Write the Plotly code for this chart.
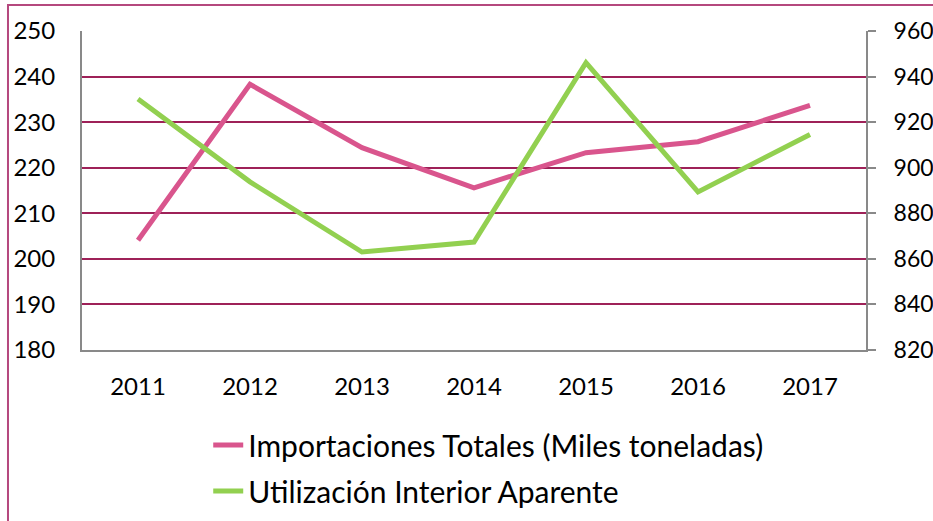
import plotly.graph_objects as go

years = ["2011", "2012", "2013", "2014", "2015", "2016", "2017"]
importaciones = [204.1, 238.3, 224.4, 215.6, 223.3, 225.7, 233.7]
utilizacion = [930.2, 893.8, 863.0, 867.4, 946.1, 889.4, 914.6]
left_ticks = [180, 190, 200, 210, 220, 230, 240, 250]
right_ticks = [820, 840, 860, 880, 900, 920, 940, 960]

FONT = "Lato"
fig = go.Figure()
fig.add_trace(go.Scatter(x=years, y=importaciones, mode="lines",
                         name="Importaciones Totales (Miles toneladas)",
                         legend="legend",
                         line=dict(color="#D9558D", width=5)))
fig.add_trace(go.Scatter(x=years, y=utilizacion, mode="lines", yaxis="y2",
                         name="Utilización Interior Aparente",
                         legend="legend2",
                         line=dict(color="#92D050", width=5)))

leg_common = dict(xanchor="left", yanchor="middle",
                  font=dict(size=30, family=FONT, color="#000000"),
                  bgcolor="rgba(0,0,0,0)")

fig.update_layout(
    width=933, height=521,
    margin=dict(l=82, r=67, t=31, b=171, autoexpand=False),
    paper_bgcolor="white", plot_bgcolor="white",
    font=dict(family=FONT, size=24, color="#000000"),
    showlegend=True,
    legend=dict(x=0.161, y=-0.298, **leg_common),
    legend2=dict(x=0.161, y=-0.442, **leg_common),
    xaxis=dict(type="category", range=[-0.5, 6.5], showgrid=False,
               showline=True, linecolor="#898989", linewidth=2,
               ticks="", ticklabelstandoff=14, zeroline=False,
               automargin=False),
    yaxis=dict(range=[180, 250], tickvals=left_ticks, showgrid=True,
               gridcolor="#9E2158", gridwidth=2, showline=True,
               linecolor="#898989", linewidth=2, ticks="",
               ticklabelstandoff=20, zeroline=False, automargin=False),
    yaxis2=dict(range=[820, 960], tickvals=right_ticks, overlaying="y",
                side="right", showgrid=False, showline=True,
                linecolor="#898989", linewidth=2, ticks="outside",
                ticklen=8, tickcolor="#898989", tickwidth=2,
                tickfont=dict(size=23),
                ticklabelstandoff=13, zeroline=False, automargin=False),
    shapes=[dict(type="rect", xref="paper", yref="paper",
                 x0=-0.0944, x1=1.3, y0=-1.0, y1=1.0815,
                 line=dict(color="#B5487E", width=2), layer="below")],
)

fig.write_html(
    "out.html",
    config={"displayModeBar": False},
    post_script="document.body.style.margin='0';"
                "document.body.style.overflow='hidden';",
)
